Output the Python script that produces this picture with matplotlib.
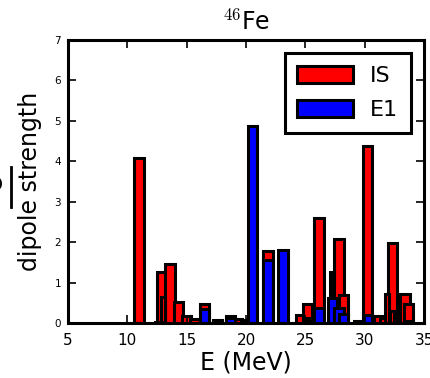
import matplotlib
matplotlib.use("Agg")
import matplotlib.pyplot as plt
from matplotlib.lines import Line2D

plt.rcParams['font.family'] = ['DejaVu Sans']
plt.rcParams['mathtext.fontset'] = 'cm'

# IS strength (wide bars)
is_E = [11.0, 12.9, 13.6, 14.3, 15.0, 15.7, 16.5, 17.6, 18.7, 19.3, 20.0,
        21.85, 24.6, 25.2, 26.15, 27.85, 28.2, 29.5, 30.25, 31.2, 31.7,
        32.35, 33.4, 33.7]
is_S = [4.08, 1.25, 1.45, 0.52, 0.17, 0.10, 0.48, 0.08, 0.18, 0.10, 0.08,
        1.78, 0.20, 0.47, 2.60, 2.07, 0.69, 0.05, 4.38, 0.17, 0.12,
        1.98, 0.72, 0.48]
# IS strength (narrow bars)
is_narrow_E = [13.0, 27.2, 31.9, 32.3]
is_narrow_S = [0.65, 1.27, 0.72, 0.30]

# E1 strength (wide bars)
e1_E = [12.7, 16.5, 18.7, 20.55, 21.85, 23.1, 26.15, 27.3, 27.85, 28.2, 30.25, 33.7]
e1_S = [0.03, 0.35, 0.13, 4.87, 1.56, 1.80, 0.38, 0.63, 0.38, 0.23, 0.20, 0.05]
# E1 strength (narrow bars)
e1_narrow_E = [25.2]
e1_narrow_S = [0.12]

x_ticks = [5, 10, 15, 20, 25, 30, 35]
y_ticks = [0, 1, 2, 3, 4, 5, 6, 7]

W, H = 431, 378
fig = plt.figure(figsize=(W / 100, H / 100), dpi=100)
ax = fig.add_axes([68 / W, 1 - 323 / H, (424 - 68) / W, (323 - 40) / H])

kw = dict(edgecolor='black', linewidth=2.2, align='center')
ax.bar(is_E, is_S, width=0.8, color='#ff0000', label='IS', **kw)
ax.bar(is_narrow_E, is_narrow_S, width=0.3, color='#ff0000', **kw)
ax.bar(e1_E, e1_S, width=0.8, color='#0000ff', label='E1', **kw)
ax.bar(e1_narrow_E, e1_narrow_S, width=0.3, color='#0000ff', **kw)

ax.set_xlim(5, 35)
ax.set_ylim(0, 7)
ax.set_xticks(x_ticks)
ax.set_xticklabels([str(t) for t in x_ticks])
ax.set_yticks(y_ticks)
ax.set_yticklabels([str(t) for t in y_ticks])

for s in ax.spines.values():
    s.set_linewidth(2.2)
ax.tick_params(axis='both', which='major', direction='in', length=6, width=1.2,
               top=True, right=True)
ax.tick_params(axis='x', labelsize=11, pad=7)
ax.tick_params(axis='y', labelsize=7.5, pad=5)

ax.set_xlabel('E (MeV)', fontsize=17, labelpad=2)
ax.set_ylabel('dipole strength', fontsize=17, labelpad=9)
ax.set_title(r'$^{46}$Fe', fontsize=17, pad=7)

leg = ax.legend(loc='upper right', fontsize=16, frameon=True, fancybox=False,
                handlelength=2.5, handleheight=0.8, labelspacing=0.65,
                borderaxespad=0.6, handletextpad=0.8, borderpad=0.55)
leg.get_frame().set_edgecolor('black')
leg.get_frame().set_linewidth(2.2)
leg.get_frame().set_alpha(1)

# partially cropped label fragment at the far left
fig.text(-5.5 / W, 1 - 182 / H, 'O', rotation=90, fontsize=17,
         ha='center', va='center')
fig.add_artist(Line2D([11.5 / W, 11.5 / W], [1 - 167 / H, 1 - 207 / H],
                      color='black', linewidth=2.0))

fig.savefig('out.png', dpi=100)
